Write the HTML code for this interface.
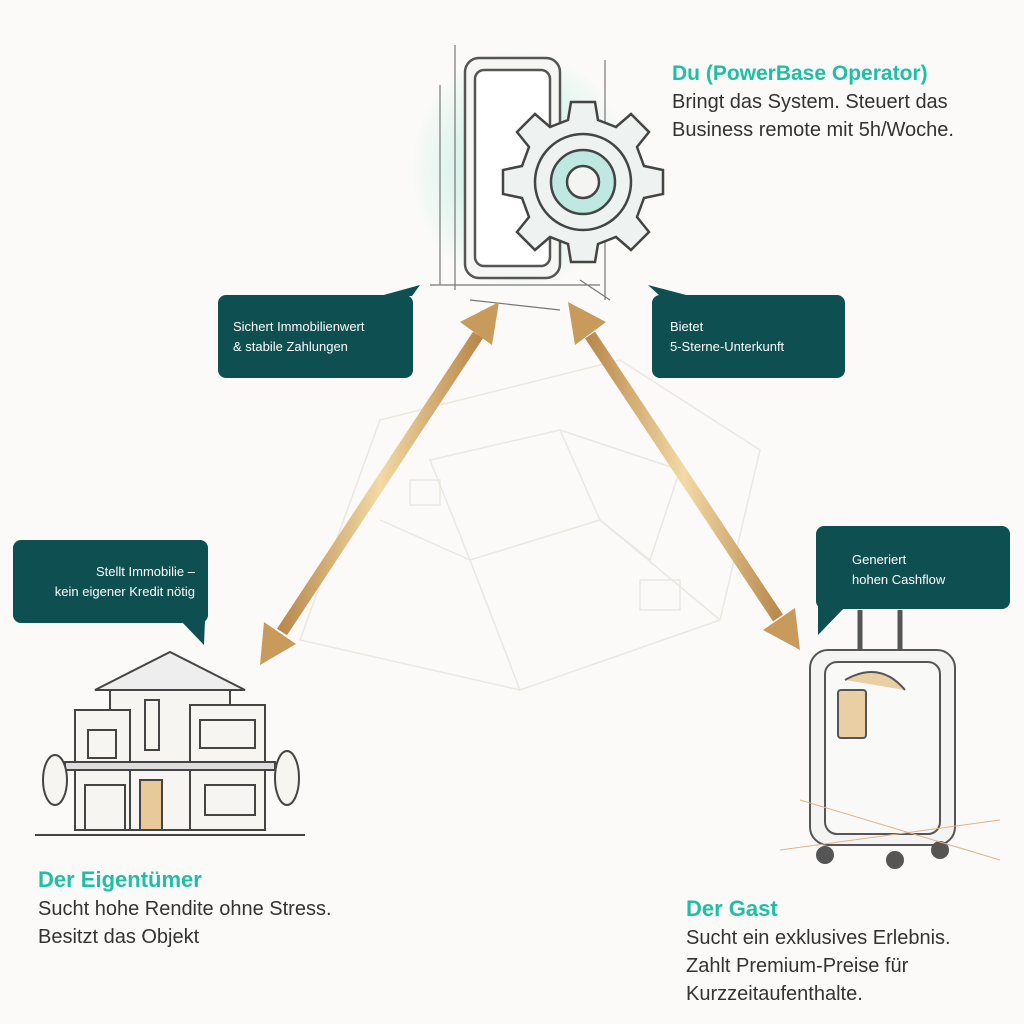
<!DOCTYPE html>
<html><head><meta charset="utf-8"><style>
html,body{margin:0;padding:0;background:#fbfaf8;}
.w{position:relative;width:1024px;height:1024px;overflow:hidden;font-family:"Liberation Sans",sans-serif;}
svg{position:absolute;left:0;top:0;}
.t{position:absolute;color:#333;font-size:20px;line-height:28px;white-space:nowrap;}
.h{color:#1fbfa5;font-weight:bold;font-size:21px;}
.c{position:absolute;color:#fff;font-size:13px;line-height:20px;white-space:nowrap;}
</style></head><body><div class="w">
<svg width="1024" height="1024" viewBox="0 0 1024 1024">
<defs>
<linearGradient id="g" x1="0" x2="1"><stop offset="0" stop-color="#b98a4e"/><stop offset=".5" stop-color="#f3d9a4"/><stop offset="1" stop-color="#b98a4e"/></linearGradient>
<radialGradient id="glow"><stop offset="0" stop-color="#9ee8d6" stop-opacity=".8"/><stop offset="1" stop-color="#9ee8d6" stop-opacity="0"/></radialGradient>
</defs>
<g stroke="#ebe7e1" fill="none" stroke-width="1.5">
<path d="M380 420 L620 360 L760 450 L720 620 L520 690 L300 640 Z"/>
<path d="M430 460 L560 430 L600 520 L470 560 Z"/><path d="M560 430 L680 470 L650 560 L600 520"/>
<path d="M470 560 L520 690"/><path d="M380 520 L470 560"/><path d="M600 520 L720 620"/>
<rect x="410" y="480" width="30" height="25"/><rect x="640" y="580" width="40" height="30"/>
</g>
<ellipse cx="520" cy="170" rx="110" ry="120" fill="url(#glow)"/>
<g stroke="#555" fill="#f6f6f4" stroke-width="2.5">
<rect x="465" y="58" width="95" height="220" rx="14"/>
<rect x="475" y="70" width="75" height="196" rx="9" fill="#fff"/>
</g>
<g stroke="#777" stroke-width="1.2" fill="none">
<path d="M440 85 V285 M430 285 H600 M455 45 V290 M605 60 V300 M470 300 L560 310 M580 280 L610 300"/>
</g>
<g transform="translate(583,182)">
<g fill="#eef2f1" stroke="#444" stroke-width="2.5">
<path d="M-12 -80 H12 L15 -62 L33 -55 L48 -68 L66 -50 L54 -35 L61 -16 L80 -12 V12 L61 16 L54 35 L66 50 L48 68 L33 55 L15 62 L12 80 H-12 L-15 62 L-33 55 L-48 68 L-66 50 L-54 35 L-61 16 L-80 12 V-12 L-61 -16 L-54 -35 L-66 -50 L-48 -68 L-33 -55 L-15 -62 Z"/>
<circle r="48"/><circle r="32" fill="#bfe9e0"/><circle r="16" fill="#f4f4f2"/>
</g></g>
<g>
<line x1="478" y1="335" x2="282" y2="632" stroke="url(#g)" stroke-width="12"/>
<polygon points="499,302 460,322 492,345" fill="#c89a5c"/>
<polygon points="260,665 264,622 296,644" fill="#c89a5c"/>
<line x1="590" y1="335" x2="778" y2="618" stroke="url(#g)" stroke-width="12"/>
<polygon points="568,302 606,322 575,345" fill="#c89a5c"/>
<polygon points="800,650 763,630 795,608" fill="#c89a5c"/>
</g>
<g fill="#0e4f52">
<rect x="218" y="295" width="195" height="83" rx="8"/><polygon points="380,296 412,296 420,285"/>
<rect x="652" y="295" width="193" height="83" rx="8"/><polygon points="660,296 690,296 648,285"/>
<rect x="13" y="540" width="195" height="83" rx="8"/><polygon points="180,620 205,620 204,645"/>
<rect x="816" y="526" width="194" height="83" rx="8"/><polygon points="818,606 846,606 818,635"/>
</g>
<g stroke="#444" stroke-width="2" fill="#f7f5f1">
<path d="M95 690 L170 652 L245 690 Z" fill="#eee"/>
<rect x="110" y="690" width="120" height="140"/>
<rect x="75" y="710" width="55" height="120"/>
<rect x="190" y="705" width="75" height="125"/>
<rect x="65" y="762" width="210" height="8" fill="#ddd"/>
<rect x="140" y="780" width="22" height="50" fill="#e8c99a"/>
<rect x="85" y="785" width="40" height="45"/>
<rect x="88" y="730" width="28" height="28"/><rect x="200" y="720" width="55" height="28"/>
<rect x="145" y="700" width="14" height="50"/>
<rect x="205" y="785" width="50" height="30"/>
<ellipse cx="55" cy="780" rx="12" ry="25"/><ellipse cx="287" cy="778" rx="12" ry="27"/>
<line x1="35" y1="835" x2="305" y2="835"/>
</g>
<g stroke="#555" stroke-width="2" fill="#f4f4f3">
<path d="M860 650 V610 M900 650 V610" fill="none" stroke-width="5"/>
<rect x="810" y="650" width="145" height="195" rx="18"/>
<rect x="825" y="662" width="115" height="172" rx="12" fill="#f9f9f8"/>
<rect x="838" y="690" width="28" height="48" rx="3" fill="#e9cfa3"/>
<path d="M845 680 Q880 660 905 690" fill="#e9cfa3"/>
<circle cx="825" cy="855" r="8" fill="#555"/><circle cx="895" cy="860" r="8" fill="#555"/><circle cx="940" cy="850" r="8" fill="#555"/>
</g>
<g stroke="#e0b48a" stroke-width="1"><path d="M780 850 L1000 820 M800 800 L1000 860"/></g>
</svg>
<div class="t" style="left:672px;top:60px;"><span class="h">Du (PowerBase Operator)</span><br>Bringt das System. Steuert das<br>Business remote mit 5h/Woche.</div>
<div class="c" style="left:233px;top:317px;">Sichert Immobilienwert<br>&amp; stabile Zahlungen</div>
<div class="c" style="left:670px;top:317px;">Bietet<br>5-Sterne-Unterkunft</div>
<div class="c" style="left:13px;width:182px;top:562px;text-align:right;">Stellt Immobilie –<br>kein eigener Kredit nötig</div>
<div class="c" style="left:852px;top:550px;">Generiert<br>hohen Cashflow</div>
<div class="t" style="left:38px;top:866px;"><span class="h" style="font-size:22px">Der Eigentümer</span><br>Sucht hohe Rendite ohne Stress.<br>Besitzt das Objekt</div>
<div class="t" style="left:686px;top:895px;"><span class="h" style="font-size:22px">Der Gast</span><br>Sucht ein exklusives Erlebnis.<br>Zahlt Premium-Preise für<br>Kurzzeitaufenthalte.</div>
</div></body></html>
